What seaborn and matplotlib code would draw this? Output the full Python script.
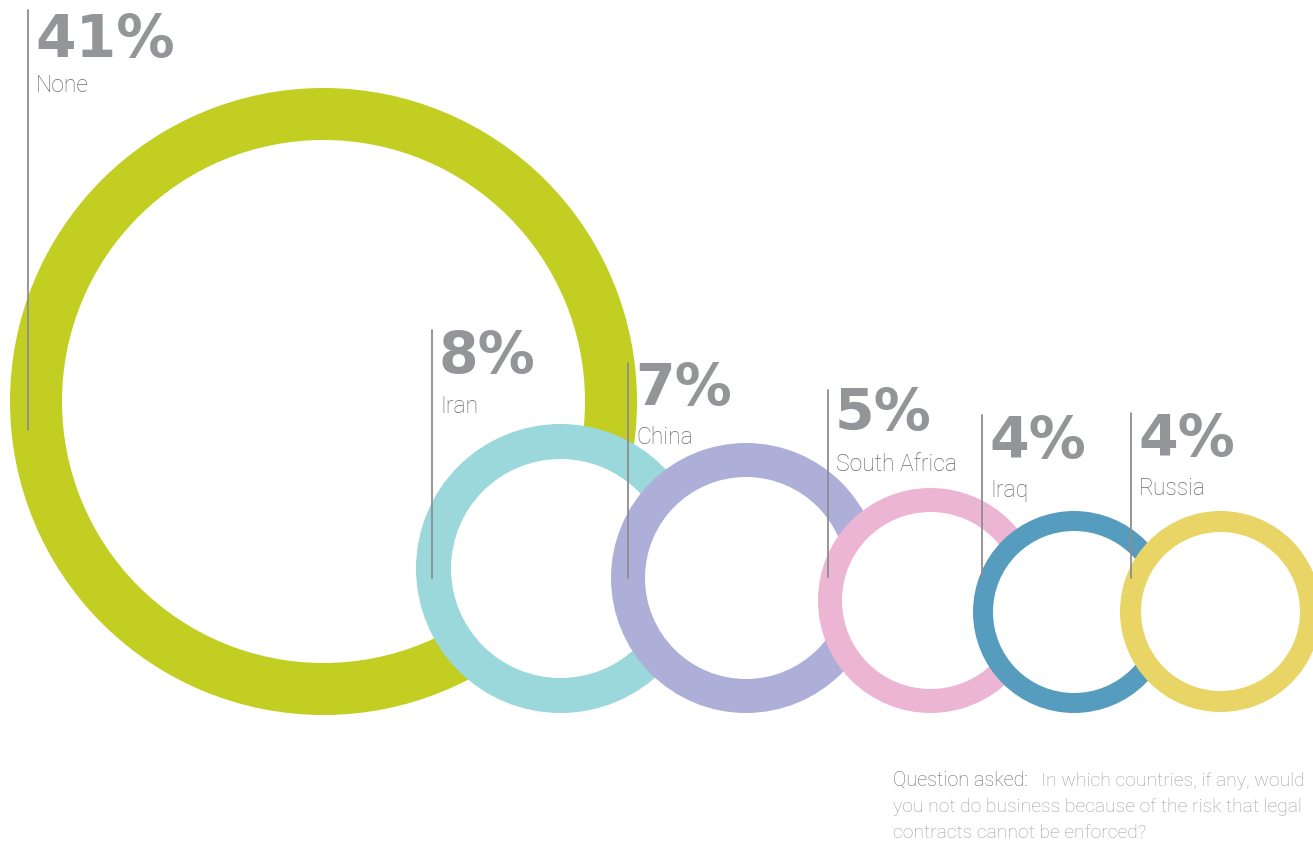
import matplotlib
matplotlib.use("Agg")
import matplotlib.pyplot as plt
from matplotlib.patches import Circle
import seaborn as sns
import pandas as pd

# ---- data ----
categories = ["None", "Iran", "China", "South Africa", "Iraq", "Russia"]
values = [41, 8, 7, 5, 4, 4]
colors = ["#C2CF22", "#9BD8DB", "#ADAFD9", "#EDB5D4", "#569CBF", "#E8D565"]
question_lead = "Question asked:"
question_lines = ["In which countries, if any, would",
                  "you not do business because of the risk that legal",
                  "contracts cannot be enforced?"]

# ---- layout (pixel space) ----
ring_cx = [323.5, 560.5, 746, 930.5, 1074, 1220.5]
ring_cy = [401.5, 568.5, 578, 600.5, 612, 611.5]
ring_r = [313.5, 144.5, 135, 112.5, 101, 100.5]
ring_w = [52, 35, 34, 24, 20, 21]
line_x = [28, 432, 628, 828, 982, 1131]
line_top = [10, 330, 363, 390, 415, 413]
line_bot = [430, 578, 578, 577, 577, 578]
pct_base = [57, 373, 405, 430, 458, 456]
lab_base = [92, 413, 444, 471, 497, 495]
pct_size = [42, 41, 41, 41, 41, 41]

sns.set_theme(style="white")
palette = sns.color_palette(colors)

fig = plt.figure(figsize=(13.13, 8.46), dpi=100)
ax = fig.add_axes([0, 0, 1, 1])

for i in range(len(categories)):
    ax.add_patch(Circle((ring_cx[i], ring_cy[i]), ring_r[i],
                        facecolor=palette[i], edgecolor="none", zorder=2 + 2 * i))
    ax.add_patch(Circle((ring_cx[i], ring_cy[i]), ring_r[i] - ring_w[i],
                        facecolor="white", edgecolor="none", zorder=3 + 2 * i))

lines_df = pd.DataFrame({
    "x": [v for lx in line_x for v in (lx, lx)],
    "y": [v for t, b in zip(line_top, line_bot) for v in (t, b)],
    "cat": [c for c in categories for _ in range(2)],
})
sns.lineplot(data=lines_df, x="x", y="y", units="cat", estimator=None,
             color="#8e8e8e", linewidth=1.3, sort=False, ax=ax, zorder=20,
             legend=False)
ax.set_xlim(0, 1313)
ax.set_ylim(846, 0)
ax.axis("off")

label_font = ["Roboto", "DejaVu Sans"]
for i, cat in enumerate(categories):
    ax.text(line_x[i] + 7, pct_base[i], f"{values[i]}%", fontsize=pct_size[i],
            fontweight="bold", family=["DejaVu Sans"], color="#939598",
            va="baseline", ha="left", zorder=30)
    ax.text(line_x[i] + 8, lab_base[i], cat, fontsize=16.5, fontweight="light",
            family=label_font, color="#6a6a6a",
            va="baseline", ha="left", zorder=30)

ax.text(893, 786, question_lead, fontsize=14.3, fontweight="light",
        family=label_font, color="#6e6e6e", va="baseline", ha="left")
ax.text(1041, 786, question_lines[0], fontsize=13.9, fontweight="light",
        family=label_font, color="#9e9e9e", va="baseline", ha="left")
ax.text(893, 812, question_lines[1], fontsize=13.9, fontweight="light",
        family=label_font, color="#9e9e9e", va="baseline", ha="left")
ax.text(893, 838, question_lines[2], fontsize=13.9, fontweight="light",
        family=label_font, color="#9e9e9e", va="baseline", ha="left")

fig.savefig("out.png", dpi=100)
